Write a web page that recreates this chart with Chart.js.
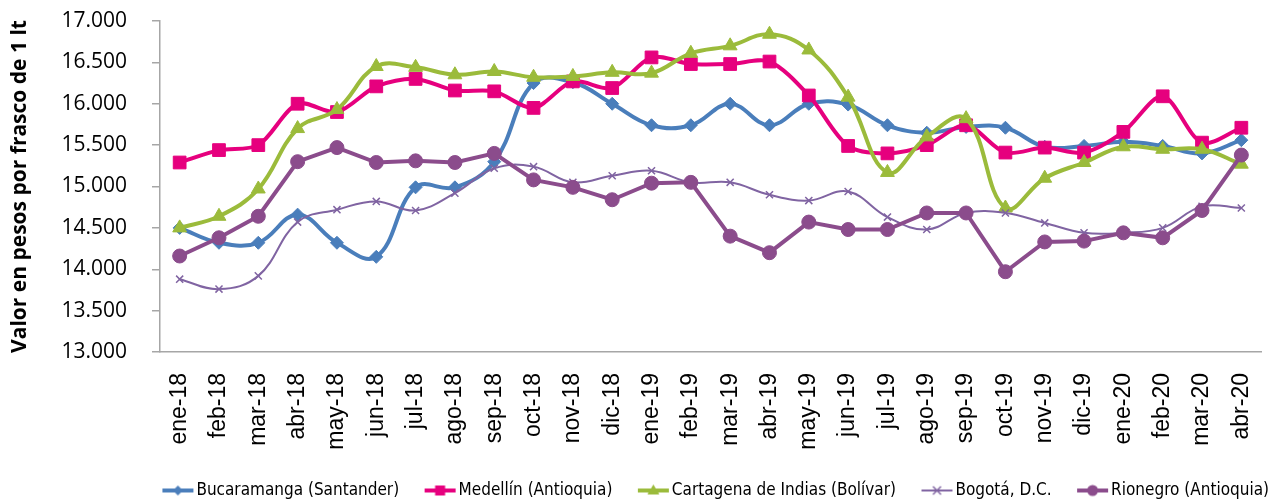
<!DOCTYPE html>
<html>
<head>
<meta charset="utf-8">
<title>Precio por frasco de 1 lt</title>
<script src="https://cdn.jsdelivr.net/npm/chart.js@4.4.1/dist/chart.umd.min.js"></script>
<style>
    html, body { margin: 0; padding: 0; background: #fff; }
    #wrap { width: 1271px; height: 501px; }
</style>
</head>
<body>
<div id="wrap"><canvas id="myChart" width="1271" height="501"></canvas></div>
<script>

// Data
var months = ['ene-18', 'feb-18', 'mar-18', 'abr-18', 'may-18', 'jun-18', 'jul-18', 'ago-18', 'sep-18', 'oct-18', 'nov-18', 'dic-18',
    'ene-19', 'feb-19', 'mar-19', 'abr-19', 'may-19', 'jun-19', 'jul-19', 'ago-19', 'sep-19', 'oct-19', 'nov-19', 'dic-19',
    'ene-20', 'feb-20', 'mar-20', 'abr-20'];

var bucaramanga = [14500, 14320, 14320, 14660, 14320, 14150, 14990, 14990, 15300, 16250, 16260, 16000,
    15740, 15740, 16000, 15740, 16000, 15990, 15740, 15650, 15720, 15710, 15480, 15490,
    15540, 15490, 15400, 15560];
var medellin = [15290, 15440, 15500, 16000, 15900, 16210, 16300, 16160, 16150, 15950, 16270, 16190,
    16560, 16480, 16480, 16510, 16100, 15490, 15400, 15500, 15740, 15410, 15470, 15410,
    15660, 16090, 15530, 15710];
var cartagena = [14500, 14640, 14970, 15700, 15930, 16450, 16440, 16350, 16390, 16320, 16330, 16380,
    16370, 16610, 16700, 16840, 16650, 16080, 15170, 15600, 15820, 14740, 15100, 15290,
    15480, 15450, 15450, 15270];
var bogota = [13880, 13760, 13920, 14570, 14720, 14820, 14710, 14920, 15220, 15240, 15050, 15130,
    15190, 15050, 15050, 14900, 14830, 14940, 14630, 14480, 14680, 14680, 14560, 14440,
    14440, 14500, 14760, 14740];
var rionegro = [14160, 14380, 14640, 15300, 15470, 15290, 15310, 15290, 15400, 15080, 14990, 14840,
    15040, 15050, 14400, 14200, 14570, 14480, 14480, 14680, 14680, 13970, 14330, 14340,
    14440, 14380, 14710, 15380];

var seriesNames = ['Bucaramanga (Santander)', 'Medellín (Antioquia)', 'Cartagena de Indias (Bolívar)', 'Bogotá, D.C.', 'Rionegro (Antioquia)'];

var yMin = 13000, yMax = 17000, yStep = 500;

// colours / markers
var colors = ['#4A7EBB', '#E6007E', '#9BBB3B', '#8064A2', '#8B4C8C'];
var markers = ['rectRot', 'rect', 'triangle', 'crossRot', 'circle'];

function fmt(v) {
    var s = String(v);
    return s.slice(0, s.length - 3) + '.' + s.slice(-3);
}

// legend glyph: short line with the marker in the middle
// (canvas is wider than the glyph so it sits right next to the text)
function legendIcon(color, style, lw) {
    var W = 62, H = 18;
    var c = document.createElement('canvas');
    c.width = W; c.height = H;
    var ctx = c.getContext('2d');
    var x0 = W - 32, x1 = W - 1, cy = H / 2, cx = (x0 + x1) / 2;
    ctx.strokeStyle = color;
    ctx.fillStyle = color;
    ctx.lineWidth = lw;
    ctx.beginPath();
    ctx.moveTo(x0, cy);
    ctx.lineTo(x1, cy);
    ctx.stroke();
    ctx.beginPath();
    if (style === 'rectRot') {
        ctx.moveTo(cx, cy - 5); ctx.lineTo(cx + 5, cy); ctx.lineTo(cx, cy + 5); ctx.lineTo(cx - 5, cy);
        ctx.closePath(); ctx.fill();
    } else if (style === 'rect') {
        ctx.rect(cx - 5, cy - 5, 10, 10); ctx.fill();
    } else if (style === 'triangle') {
        ctx.moveTo(cx, cy - 6); ctx.lineTo(cx + 6, cy + 4); ctx.lineTo(cx - 6, cy + 4);
        ctx.closePath(); ctx.fill();
    } else if (style === 'crossRot') {
        ctx.lineWidth = 1.5;
        ctx.moveTo(cx - 4, cy - 4); ctx.lineTo(cx + 4, cy + 4);
        ctx.moveTo(cx + 4, cy - 4); ctx.lineTo(cx - 4, cy + 4);
        ctx.stroke();
    } else {
        ctx.arc(cx, cy, 5.5, 0, Math.PI * 2); ctx.fill();
    }
    return c;
}

var seriesData = [bucaramanga, medellin, cartagena, bogota, rionegro];
var lineWidths = [4, 4, 4, 2, 4];
var tensions = [0.4, 0.3, 0.4, 0.4, 0];
var radii = [6.5, 9, 8, 5, 7];
var icons = [];

var datasets = seriesData.map(function (vals, i) {
    icons.push(legendIcon(colors[i], markers[i], lineWidths[i]));
    return {
        label: seriesNames[i],
        data: vals,
        borderColor: colors[i],
        backgroundColor: colors[i],
        borderWidth: lineWidths[i],
        tension: tensions[i],
        pointStyle: markers[i],
        pointRadius: radii[i],
        pointBackgroundColor: colors[i],
        pointBorderColor: colors[i],
        pointBorderWidth: markers[i] === 'crossRot' ? 1.5 : 1,
        fill: false,
        order: 5 - i
    };
});

Chart.defaults.font.family = "'Open Sans', sans-serif";
Chart.defaults.color = '#000';

// no extra label padding around the plot, the layout below is fixed
function noPad(scale) {
    scale.paddingTop = 0;
    scale.paddingBottom = 0;
    scale.paddingLeft = 0;
    scale.paddingRight = 0;
}

new Chart('myChart', {
    type: 'line',
    data: {
        labels: months,
        datasets: datasets
    },
    options: {
        responsive: false,
        animation: false,
        devicePixelRatio: 1,
        layout: { padding: { top: 21, left: 0, right: 0, bottom: 0 } },
        plugins: {
            tooltip: { enabled: false },
            legend: {
                position: 'bottom',
                align: 'end',
                fullSize: true,
                maxHeight: 21,
                labels: {
                    usePointStyle: true,
                    pointStyleWidth: 49,
                    padding: 2,
                    color: '#000',
                    font: { family: "'DejaVu Sans Condensed', 'Liberation Sans Narrow', sans-serif", size: 17 },
                    sort: function (a, b) { return a.datasetIndex - b.datasetIndex; },
                    generateLabels: function (chart) {
                        var items = Chart.defaults.plugins.legend.labels.generateLabels(chart);
                        items.forEach(function (it) { it.pointStyle = icons[it.datasetIndex]; });
                        return items;
                    }
                }
            }
        },
        scales: {
            x: {
                offset: true,
                grid: { display: false },
                border: { display: true, color: '#A6A6A6', width: 1.5 },
                ticks: {
                    autoSkip: false,
                    minRotation: 90,
                    maxRotation: 90,
                    padding: 13,
                    color: '#000',
                    font: { family: "'Liberation Sans', Arial, sans-serif", size: 23 }
                },
                afterFit: function (scale) { scale.height = 128; noPad(scale); }
            },
            y: {
                min: yMin,
                max: yMax,
                grid: { display: true, drawOnChartArea: false, drawTicks: true, tickLength: 8, color: '#A6A6A6', lineWidth: 1.5 },
                border: { display: true, color: '#A6A6A6', width: 1.5 },
                ticks: {
                    stepSize: yStep,
                    padding: 25,
                    color: '#000',
                    font: { size: 21 },
                    callback: function (v) { return fmt(v); }
                },
                title: {
                    display: true,
                    text: 'Valor en pesos por frasco de 1 lt',
                    color: '#000',
                    padding: { top: 7, bottom: 0 },
                    font: { size: 21, weight: 'bold' }
                },
                afterFit: function (scale) { scale.width = 160; noPad(scale); }
            }
        }
    }
});
</script>
</body>
</html>
